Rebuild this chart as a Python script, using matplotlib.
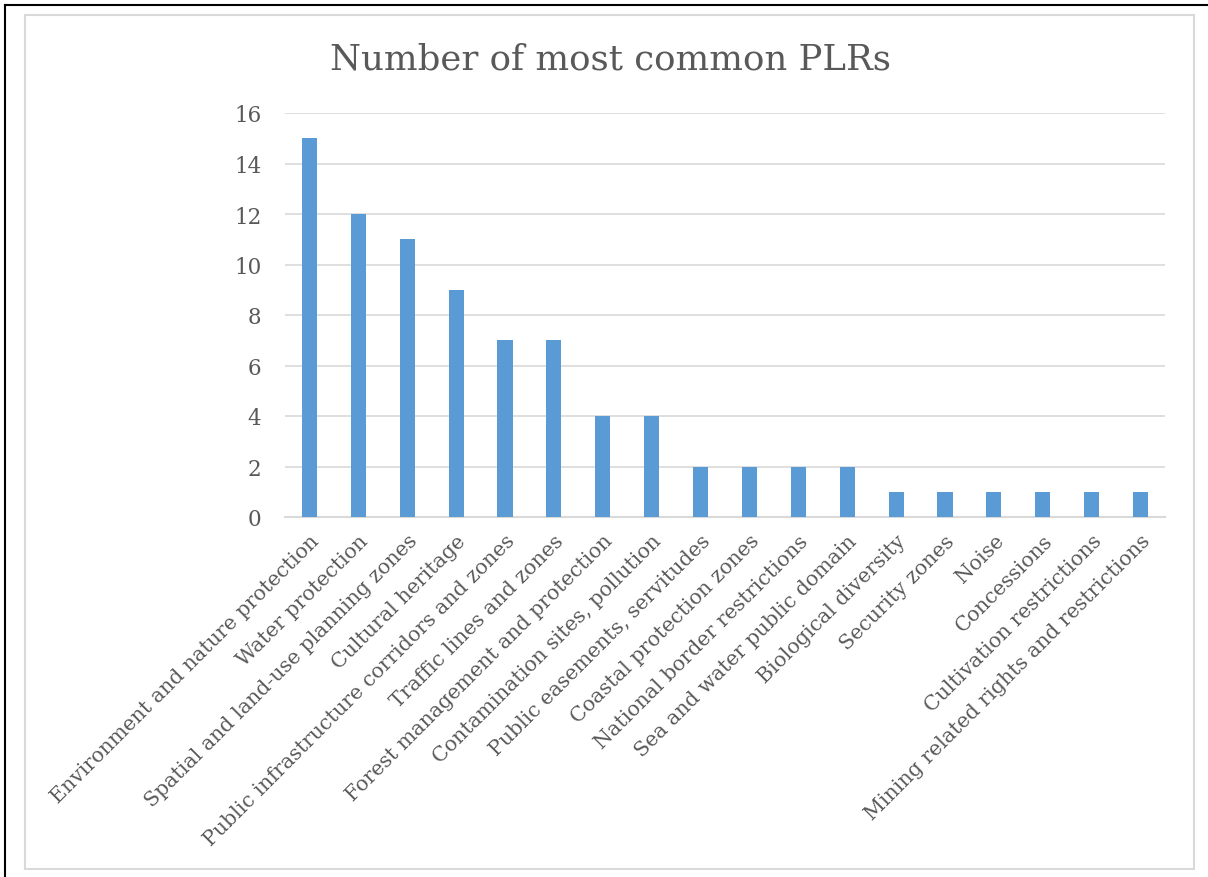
import matplotlib
matplotlib.use("Agg")
import matplotlib.pyplot as plt
from matplotlib.patches import Rectangle
from matplotlib.lines import Line2D

categories = [
    "Environment and nature protection",
    "Water protection",
    "Spatial and land-use planning zones",
    "Cultural heritage",
    "Public infrastructure corridors and zones",
    "Traffic lines and zones",
    "Forest management and protection",
    "Contamination sites, pollution",
    "Public easements, servitudes",
    "Coastal protection zones",
    "National border restrictions",
    "Sea and water public domain",
    "Biological diversity",
    "Security zones",
    "Noise",
    "Concessions",
    "Cultivation restrictions",
    "Mining related rights and restrictions",
]
values = [15, 12, 11, 9, 7, 7, 4, 4, 2, 2, 2, 2, 1, 1, 1, 1, 1, 1]
yticks = [0, 2, 4, 6, 8, 10, 12, 14, 16]

W, H = 1208, 878
fig = plt.figure(figsize=(W / 100, H / 100), dpi=100)
plt.rcParams['font.family'] = ['DejaVu Serif']
text_color = "#595959"
grid_color = "#d9d9d9"
bar_color = "#5b9bd5"

# frame lines
fig.add_artist(Line2D([5 / W, 5 / W], [0, 1 - 6 / H], color="black", lw=1.5))
fig.add_artist(Line2D([5 / W, 1], [1 - 6 / H, 1 - 6 / H], color="black", lw=1.5))
fig.add_artist(Rectangle((25 / W, 1 - 870 / H), (1194 - 25) / W, (870 - 16) / H,
                         fill=False, edgecolor=grid_color, lw=1.5))

left, right = 285 / W, 1165 / W
bottom, top = 1 - 518 / H, 1 - 114 / H
ax = fig.add_axes([left, bottom, right - left, top - bottom])
x = list(range(len(categories)))
ax.bar(x, values, width=0.31, color=bar_color, zorder=3)
ax.set_xlim(-0.5, len(categories) - 0.5)
ax.set_ylim(0, 16)
ax.set_yticks(yticks)
ax.set_yticklabels([str(v) for v in yticks], fontsize=15.5, color=text_color)
ax.yaxis.grid(True, color=grid_color, lw=1.2, zorder=0)
ax.set_axisbelow(True)
for s in ["top", "right", "left"]:
    ax.spines[s].set_visible(False)
ax.spines["bottom"].set_color(grid_color)
ax.spines["bottom"].set_linewidth(1.5)
ax.tick_params(axis="y", length=0, pad=17)
ax.tick_params(axis="x", length=0, pad=10)
ax.set_xticks(x)
ax.set_xticklabels(categories, rotation=45, ha="right", rotation_mode="anchor",
                   fontsize=14.8, color=text_color)

fig.text(610 / W, 1 - 60 / H, "Number of most common PLRs", ha="center", va="center",
         fontsize=25.6, color=text_color)

fig.savefig("out.png", dpi=100, facecolor="white")
